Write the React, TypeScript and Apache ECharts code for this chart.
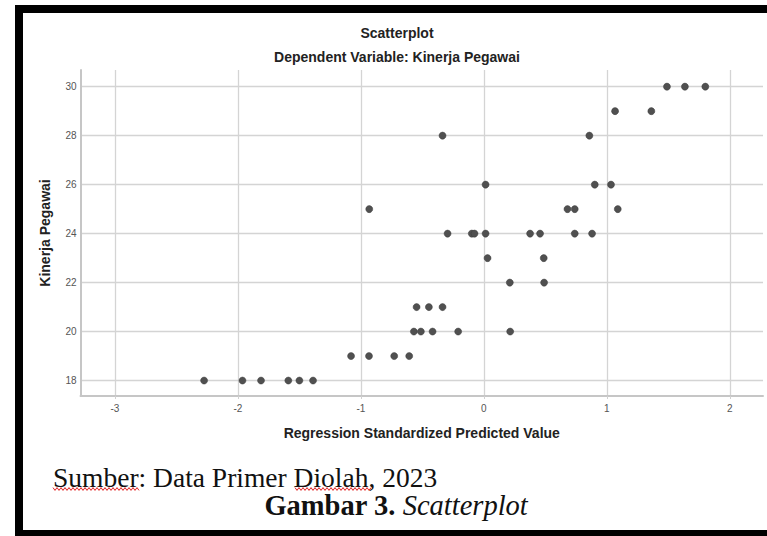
import React, { useEffect, useRef } from "react";
import * as echarts from "echarts";

// Regression standardized predicted value (x) and Kinerja Pegawai (y)
const xValues = [
  -2.275, -1.963, -1.812, -1.59, -1.5, -1.389,
  -1.08, -0.934, -0.729, -0.607,
  -0.569, -0.512, -0.417, -0.209, 0.214,
  -0.547, -0.447, -0.336,
  0.211, 0.49,
  0.03, 0.487,
  -0.295, -0.098, -0.076, 0.014, 0.376, 0.457, 0.739, 0.88,
  -0.932, 0.68, 0.739, 1.089,
  0.014, 0.902, 1.034,
  -0.336, 0.858,
  1.067, 1.362,
  1.489, 1.635, 1.801,
];
const yValues = [
  18, 18, 18, 18, 18, 18,
  19, 19, 19, 19,
  20, 20, 20, 20, 20,
  21, 21, 21,
  22, 22,
  23, 23,
  24, 24, 24, 24, 24, 24, 24, 24,
  25, 25, 25, 25,
  26, 26, 26,
  28, 28,
  29, 29,
  30, 30, 30,
];
const xTicks = [-3, -2, -1, 0, 1, 2];
const yTicks = [18, 20, 22, 24, 26, 28, 30];

const SANS = "'Liberation Sans', Arial, sans-serif";
const SERIF = "'Liberation Serif', 'Times New Roman', serif";

function squiggle(x0: number, x1: number, y: number): number[][] {
  const pts: number[][] = [];
  let up = true;
  for (let x = x0; x <= x1; x += 2) {
    pts.push([x, up ? y - 1.4 : y + 1.4]);
    up = !up;
  }
  return pts;
}

export default function App() {
  const ref = useRef<HTMLDivElement>(null);
  useEffect(() => {
    if (!ref.current) return;
    const chart = echarts.init(ref.current, undefined, { renderer: "svg" });
    const data = xValues.map((x, i) => [x, yValues[i]]);
    chart.setOption({
      animation: false,
      backgroundColor: "#ffffff",
      grid: { left: 80.5, right: 4, top: 70, bottom: 140, containLabel: false },
      xAxis: {
        type: "value",
        min: -3.28,
        max: 2.27,
        name: "Regression Standardized Predicted Value",
        nameLocation: "middle",
        nameGap: 30,
        nameTextStyle: { fontFamily: SANS, fontSize: 14, fontWeight: "bold", color: "#222" },
        axisLine: { show: true, onZero: false, lineStyle: { color: "#c6c6c6", width: 2 } },
        axisTick: { show: true, length: 3, customValues: xTicks, lineStyle: { color: "#d0d0d0" } },
        axisLabel: { customValues: xTicks, fontFamily: SANS, fontSize: 10, color: "#555", margin: 7 },
        splitLine: { show: true, lineStyle: { color: "#d4d4d4", width: 1.3 } },
      },
      yAxis: {
        type: "value",
        min: 17.37,
        max: 30.68,
        name: "Kinerja Pegawai",
        nameLocation: "middle",
        nameGap: 28.5,
        nameTextStyle: { fontFamily: SANS, fontSize: 14, fontWeight: "bold", color: "#222" },
        axisLine: { show: true, onZero: false, lineStyle: { color: "#c6c6c6", width: 2 } },
        axisTick: { show: false, customValues: yTicks },
        axisLabel: { customValues: yTicks, fontFamily: SANS, fontSize: 10, color: "#555", margin: 4 },
        splitLine: { show: true, lineStyle: { color: "#d4d4d4", width: 1.3 } },
      },
      series: [
        {
          type: "scatter",
          data,
          symbol: "circle",
          symbolSize: 7,
          itemStyle: { color: "#505050", borderColor: "#3a3a3a", borderWidth: 0.5, opacity: 1 },
        },
      ],
      graphic: [
        { type: "rect", shape: { x: 15, y: 5, width: 8, height: 531 }, style: { fill: "#000" } },
        { type: "rect", shape: { x: 15, y: 5, width: 752, height: 8 }, style: { fill: "#000" } },
        { type: "rect", shape: { x: 15, y: 530, width: 752, height: 6 }, style: { fill: "#000" } },
        {
          type: "text",
          x: 397,
          y: 33,
          style: {
            text: "Scatterplot",
            fontFamily: SANS,
            fontSize: 14,
            fontWeight: "bold",
            fill: "#222",
            align: "center",
            verticalAlign: "middle",
          },
        },
        {
          type: "text",
          x: 397,
          y: 57,
          style: {
            text: "Dependent Variable: Kinerja Pegawai",
            fontFamily: SANS,
            fontSize: 14,
            fontWeight: "bold",
            fill: "#222",
            align: "center",
            verticalAlign: "middle",
          },
        },
        {
          type: "text",
          x: 53,
          y: 477,
          style: {
            text: "Sumber: Data Primer Diolah, 2023",
            fontFamily: SERIF,
            fontSize: 27.5,
            fill: "#111",
            align: "left",
            verticalAlign: "middle",
          },
        },
        {
          type: "text",
          x: 396,
          y: 505,
          style: {
            text: "{b|Gambar 3. }{i|Scatterplot}",
            align: "center",
            verticalAlign: "middle",
            rich: {
              b: { fontFamily: SERIF, fontSize: 28.5, fontWeight: "bold", fill: "#111" },
              i: { fontFamily: SERIF, fontSize: 28.5, fontStyle: "italic", fill: "#111" },
            },
          },
        },
        {
          type: "polyline",
          shape: { points: squiggle(53, 140, 489) },
          style: { stroke: "#e02020", lineWidth: 1, fill: "none" },
        },
        {
          type: "polyline",
          shape: { points: squiggle(295, 372, 489) },
          style: { stroke: "#e02020", lineWidth: 1, fill: "none" },
        },
      ],
    });
    return () => chart.dispose();
  }, []);
  return (
    <div
      ref={ref}
      style={{ position: "absolute", left: 0, top: 0, width: 767, height: 536, background: "#fff" }}
    />
  );
}
